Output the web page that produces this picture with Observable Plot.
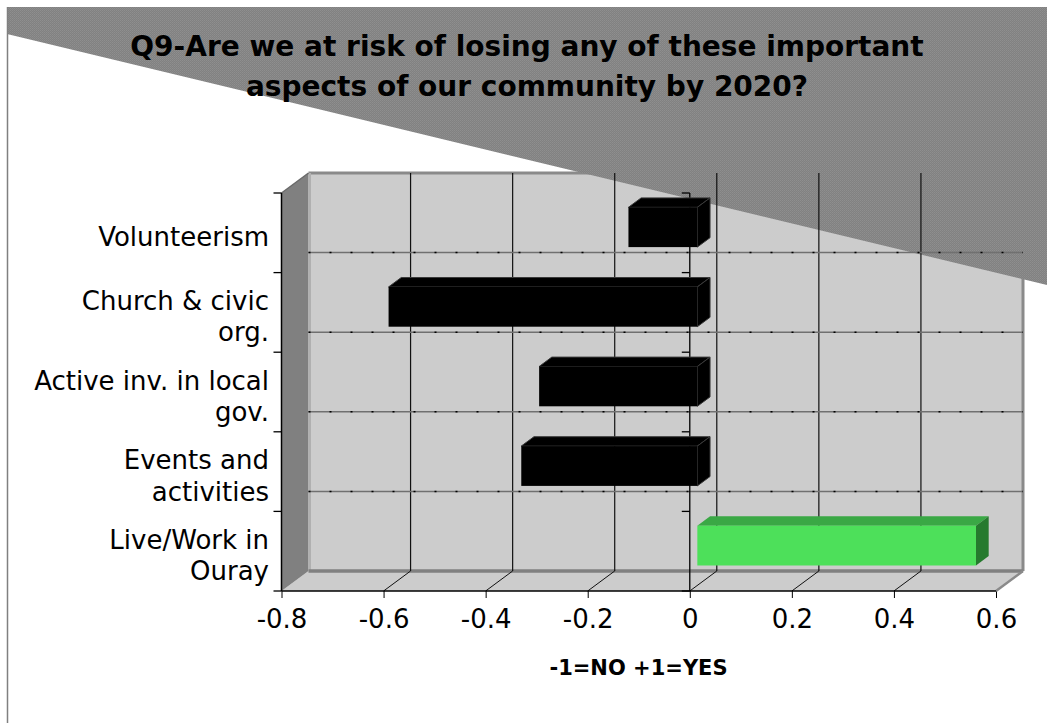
<!DOCTYPE html>
<html>
<head>
<meta charset="utf-8">
<script src="https://cdn.jsdelivr.net/npm/d3@7"></script>
<script src="https://cdn.jsdelivr.net/npm/@observablehq/plot@0.6"></script>
<style>
  body { margin: 0; background: #ffffff; }
  #wrap { position: relative; width: 1047px; height: 723px; overflow: hidden; background: #fff; }
  #chart { position: absolute; left: 0; top: 0; }
  #title { position: absolute; left: 7px; width: 1040px; top: 27px; text-align: center;
           font: bold 28px/40px "DejaVu Sans", Verdana, sans-serif; color: #000; }
  #xlabel { position: absolute; left: 281px; width: 715px; top: 653px; text-align: center;
            font: bold 21px/30px "DejaVu Sans", Verdana, sans-serif; color: #000; }
</style>
</head>
<body>
<div id="wrap">
  <div id="chart"></div>
  <div id="title">Q9-Are we at risk of losing any of these important<br>aspects of our community by 2020?</div>
  <div id="xlabel">-1=NO +1=YES</div>
</div>
<script>
// ---- data ----
const categories = [
  "Volunteerism",
  "Church & civic\norg.",
  "Active inv. in local\ngov.",
  "Events and\nactivities",
  "Live/Work in\nOuray"
];
const values = [-0.135, -0.605, -0.31, -0.345, 0.546];
const barColors = ["#000000", "#000000", "#000000", "#000000", "#4de05a"];
const barTopColors = ["#000000", "#000000", "#000000", "#000000", "#3aa845"];
const barEndColors = ["#000000", "#000000", "#000000", "#000000", "#267a2e"];
const xTickValues = [-0.8, -0.6, -0.4, -0.2, 0, 0.2, 0.4, 0.6];
const xTickLabels = ["-0.8", "-0.6", "-0.4", "-0.2", "0", "0.2", "0.4", "0.6"];

const rows = categories.map((c, i) => ({category: c, value: values[i], i}));

// ---- layout ----
const W = 1047, H = 723;
const M = {top: 193, bottom: 132, left: 281.5, right: 51};
const DX = 27, DY = 20;          // oblique depth offset of the 3D box
const D0 = 0.28, D1 = 0.75;      // depth span of bars
const BW = (H - M.top - M.bottom) / categories.length;

function pickScales(a, b) {
  return (b && typeof b.x === "function") ? b : a;
}
function poly(g, pts, fill, stroke, sw) {
  g.append("polygon").attr("points", pts.map(p => p.join(",")).join(" "))
    .attr("fill", fill).attr("stroke", stroke || "none").attr("stroke-width", sw || 0)
    .attr("stroke-linejoin", "round");
}
function line(g, x1, y1, x2, y2, stroke, sw, dash) {
  const l = g.append("line").attr("x1", x1).attr("y1", y1).attr("x2", x2).attr("y2", y2)
    .attr("stroke", stroke).attr("stroke-width", sw);
  if (dash) l.attr("stroke-dasharray", dash);
}
function frameOf(s) {
  const x = s.x, y = s.y;
  const bw = y.bandwidth ? y.bandwidth() : BW;
  const xL = x(xTickValues[0]), xR = x(xTickValues[xTickValues.length - 1]);
  const yT = y(categories[0]), yB = y(categories[categories.length - 1]) + bw;
  return {x, y, bw, xL, xR, yT, yB};
}

// walls and floor
const wallsMark = (a, b) => {
  const {xL, xR, yT, yB} = frameOf(pickScales(a, b));
  const g = d3.create("svg:g");
  g.append("rect").attr("x", xL + DX).attr("y", yT - DY).attr("width", xR - xL).attr("height", yB - yT)
    .attr("fill", "#cccccc");
  poly(g, [[xL, yB], [xR, yB], [xR + DX, yB - DY], [xL + DX, yB - DY]], "#cccccc");
  poly(g, [[xL, yT], [xL + DX, yT - DY], [xL + DX, yB - DY], [xL, yB]], "#808080");
  line(g, xL + DX, yT - DY, xR + DX, yT - DY, "#8a8a8a", 3);
  line(g, xR + DX, yT - DY, xR + DX, yB - DY, "#8a8a8a", 3);
  line(g, xL + DX + 1.5, yT - DY, xL + DX + 1.5, yB - DY, "#b0b0b0", 2);
  line(g, xL + DX, yB - DY, xR + DX, yB - DY, "#808080", 3.5);
  line(g, xR, yB, xR + DX, yB - DY, "#8a8a8a", 2.5);
  line(g, xL, yT, xL + DX, yT - DY, "#6a6a6a", 1.5);
  return g.node();
};

// decorative grey band behind the title
const bandMark = () => {
  const g = d3.create("svg:g");
  const defs = g.append("defs");
  const pat = defs.append("pattern").attr("id", "greyTex").attr("width", 2).attr("height", 2)
    .attr("patternUnits", "userSpaceOnUse");
  pat.append("rect").attr("width", 2).attr("height", 2).attr("fill", "#818181");
  pat.append("rect").attr("width", 1).attr("height", 1).attr("fill", "#8f8f8f");
  pat.append("rect").attr("x", 1).attr("y", 1).attr("width", 1).attr("height", 1).attr("fill", "#8a8a8a");
  poly(g, [[7, 7], [W, 7], [W, 285], [7, 34]], "url(#greyTex)");
  line(g, 7.5, 7, 7.5, H, "#808080", 1.5);
  return g.node();
};

// grid lines on the back wall and floor
const gridMark = (a, b) => {
  const {x, y, xL, xR, yT, yB} = frameOf(pickScales(a, b));
  const g = d3.create("svg:g");
  xTickValues.slice(1, -1).forEach(v => {
    const px = x(v);
    line(g, px + DX, yT - DY, px + DX, yB - DY, "#111", 1.2);
    line(g, px, yB, px + DX, yB - DY, "#111", 1);
  });
  categories.slice(1).forEach(c => {
    const py = y(c) - DY;
    line(g, xL + DX, py, xR + DX, py, "#707070", 1.5);
    line(g, xL + DX, py, xR + DX, py, "#000", 1.5, "2,19");
  });
  return g.node();
};

// front axes: zero line, left edge, bottom line, category ticks
const axesMark = (a, b) => {
  const {x, y, xL, xR, yT, yB} = frameOf(pickScales(a, b));
  const g = d3.create("svg:g");
  const x0 = x(0);
  line(g, x0, yT, x0, yB, "#000", 1.3);
  line(g, xL, yT, xL, yB, "#000", 1.5);
  line(g, xL, yB, xR, yB, "#000", 1.3);
  const bounds = categories.map(c => y(c)).concat([yB]);
  bounds.forEach(py => {
    line(g, x0 - 8, py, x0, py, "#000", 1.3);
    line(g, xL - 8, py, xL, py, "#000", 1.3);
  });
  return g.node();
};

// top and end faces of the 3D bars
const barSidesMark = (a, b) => {
  const {x, y, bw} = frameOf(pickScales(a, b));
  const g = d3.create("svg:g");
  rows.forEach(r => {
    const yTop = y(r.category) + 0.25 * bw, yBot = y(r.category) + 0.75 * bw;
    const xa = x(Math.min(0, r.value)), xb = x(Math.max(0, r.value));
    const green = r.value > 0;
    const st = green ? "none" : "#3a3a3a";
    poly(g, [[xa + DX * D0, yTop - DY * D0], [xb + DX * D0, yTop - DY * D0],
             [xb + DX * D1, yTop - DY * D1], [xa + DX * D1, yTop - DY * D1]],
         barTopColors[r.i], st, 1);
    poly(g, [[xb + DX * D0, yTop - DY * D0], [xb + DX * D1, yTop - DY * D1],
             [xb + DX * D1, yBot - DY * D1], [xb + DX * D0, yBot - DY * D0]],
         barEndColors[r.i], st, 1);
  });
  return g.node();
};

const chart = Plot.plot({
  width: W,
  height: H,
  marginTop: M.top,
  marginBottom: M.bottom,
  marginLeft: M.left,
  marginRight: M.right,
  style: {fontFamily: "'DejaVu Sans', Verdana, sans-serif", fontSize: "26px", color: "#000", background: "transparent", overflow: "visible"},
  x: {
    domain: [xTickValues[0], xTickValues[xTickValues.length - 1]],
    ticks: xTickValues,
    tickFormat: d => xTickLabels[xTickValues.findIndex(v => Math.abs(v - d) < 1e-9)],
    tickSize: 7,
    tickPadding: 11,
    label: null
  },
  y: {type: "band", domain: categories, padding: 0, round: false, axis: null},
  marks: [
    wallsMark,
    bandMark,
    gridMark,
    axesMark,
    barSidesMark,
    Plot.barX(rows, {
      x1: 0, x2: "value", y: "category",
      fill: d => barColors[d.i],
      insetTop: BW * 0.25, insetBottom: BW * 0.25,
      dx: DX * D0, dy: -DY * D0
    }),
    Plot.text(categories, {
      y: d => d, text: d => d,
      frameAnchor: "left", textAnchor: "end", dx: -13, dy: 3,
      fontSize: 26, lineHeight: 1.2, fill: "#000"
    })
  ]
});
document.getElementById("chart").appendChild(chart);
</script>
</body>
</html>
